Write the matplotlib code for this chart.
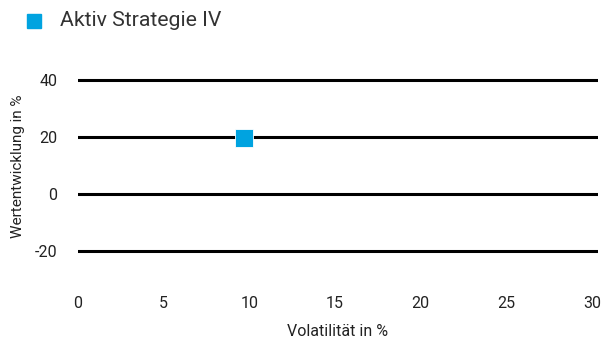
import matplotlib
matplotlib.use('agg')
import matplotlib.pyplot as plt

plt.rcParams['font.family'] = ['Roboto', 'DejaVu Sans']
plt.rcParams['axes.unicode_minus'] = False

# data
series_name = "Aktiv Strategie IV"
volatility = [9.7]   # x, in %
performance = [19.8]  # y, in %
x_ticks = [0, 5, 10, 15, 20, 25, 30]
y_ticks = [-20, 0, 20, 40]

blue = "#00a3e0"
text_col = "#222222"

fig = plt.figure(figsize=(6.03, 3.40), dpi=100)
ax = fig.add_axes([78/603, 1 - 285/340, (598 - 78)/603, (285 - 78)/340])

for yv in y_ticks:
    ax.axhline(yv, color="black", linewidth=2.2, zorder=1)

ax.scatter(volatility, performance, marker="s", s=175, color=blue,
           edgecolors="white", linewidths=0.6, zorder=3)

ax.set_xlim(0, 30 * (598 - 78) / (592 - 78))
ax.set_ylim(-32, 40.7)
ax.set_xticks(x_ticks)
ax.set_yticks(y_ticks)
ax.tick_params(axis="both", length=0, labelsize=11.5, colors=text_col)
ax.tick_params(axis="x", pad=8)
ax.tick_params(axis="y", pad=15)
for s in ax.spines.values():
    s.set_visible(False)

ax.set_xlabel("Volatilität in %", fontsize=11.5, color=text_col, labelpad=9)
fig.text(18/603, 1 - 166/340, "Wertentwicklung in %", rotation=90,
         ha="center", va="center", fontsize=11, color=text_col)

# legend
fig.patches.append(plt.Rectangle((27/603, 1 - 28/340), 14/603, 14/340,
                                 transform=fig.transFigure, color=blue))
fig.text(60/603, 1 - 21/340, series_name, ha="left", va="center",
         fontsize=15.3, color="#333333")

plt.savefig("out.png", dpi=100)
